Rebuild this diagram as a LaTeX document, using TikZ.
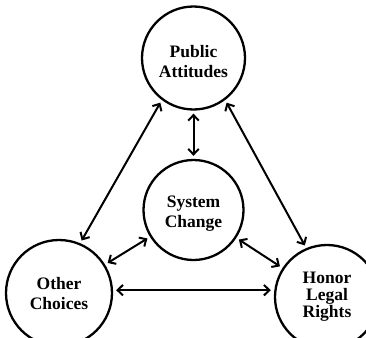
\documentclass[tikz,border=0pt]{standalone}
\usepackage{fontspec}
\setmainfont{Liberation Serif}
\usetikzlibrary{arrows.meta}
\begin{document}
\begin{tikzpicture}[x=1pt,y=-1pt,
  bubble/.style={circle,draw,line width=2.3pt,inner sep=0pt},
  lbl/.style={align=center,inner sep=0pt,font=\bfseries\fontsize{17.5}{20}\selectfont},
  arr/.style={line width=2pt,{Straight Barb[length=5.5pt,width=10.5pt]}-{Straight Barb[length=5.5pt,width=10.5pt]},
    shorten <=3pt,shorten >=3pt}]
\useasboundingbox (0,0) rectangle (366,337);
\node[bubble,minimum size=103pt] (pa) at (193.5,58) {};
\node[bubble,minimum size=100pt] (sc) at (193.5,210) {};
\node[bubble,minimum size=106pt] (oc) at (59,293) {};
\node[bubble,minimum size=104pt] (hl) at (327,297) {};
\node[lbl] (pat) at ([yshift=-4pt]pa.center) {Public\\Attitudes};
\node[lbl] (sct) at ([yshift=-4pt]sc.center) {System\\Change};
\node[lbl] (oct) at ([yshift=-1pt]oc.center) {Other\\Choices};
\node[lbl,font=\bfseries\fontsize{17.5}{17}\selectfont] (hlt) at (hl.center) {Honor\\Legal\\Rights};
\draw[arr] (pa.south) -- (sc.north);
\draw[arr] (pa.233) -- (oc.67);
\draw[arr] (pa.307) -- (hl.113);
\draw[arr] (sc) -- (oc);
\draw[arr] (sc) -- (hl);
\draw[arr] (oc.3) -- (oc.3 -| hl.west);
\end{tikzpicture}
\end{document}
